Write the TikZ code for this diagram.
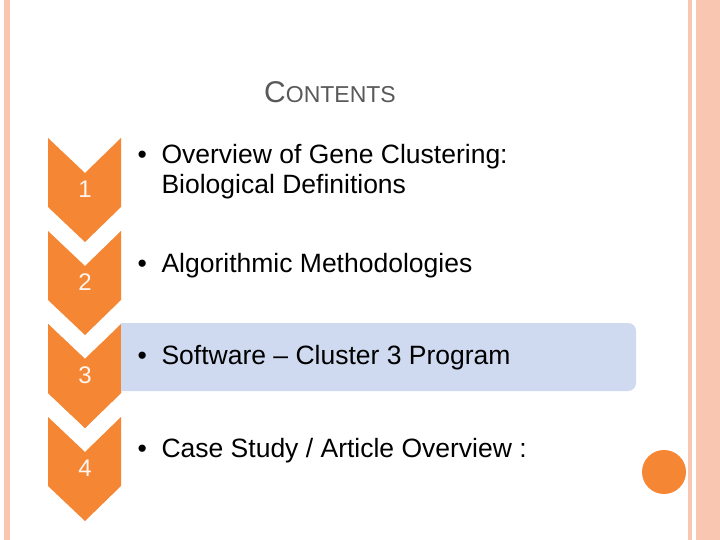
\documentclass[tikz,border=0pt]{standalone}
\usepackage{fontspec}
\setmainfont{Liberation Sans}
\definecolor{org}{HTML}{F58634}
\definecolor{pinkb}{HTML}{F9C6B2}
\definecolor{bluebox}{HTML}{CFDAF0}
\definecolor{titlegrey}{HTML}{595959}
\newcommand{\bul}{\makebox[24pt][l]{•}}
\begin{document}
\begin{tikzpicture}[x=1pt,y=-1pt,
  chev/.style={fill=org,draw=none},
  num/.style={text=white!92!org,font=\fontsize{24}{26}\selectfont},
  item/.style={anchor=west,align=left,font=\fontsize{26.5}{30}\selectfont,text=black}]
\useasboundingbox (0,0) rectangle (720,540);
\fill[white] (0,0) rectangle (720,540);
% borders
\fill[pinkb] (4,0) rectangle (10,540);
\fill[pinkb] (688,0) rectangle (692,540);
\fill[pinkb] (696,0) rectangle (720,540);
\draw[pinkb!80!red!60,line width=0.8pt] (703,0) -- (703,540);
% title
\node[text=titlegrey] (title) at (330,92) {\fontsize{30}{34}\selectfont C\fontsize{23}{26}\selectfont ONTENTS};
% blue box
\fill[bluebox,rounded corners=8pt] (110,323) -- (636,323) -- (636,391) -- (110,391) -- cycle;
\fill[bluebox] (110,323) rectangle (125,391);
% chevrons
\foreach \i/\t in {1/138,2/231,3/324,4/417}{
  \fill[chev] (48,\t) -- (85,\t+35) -- (121,\t) -- (121,\t+69) -- (85,\t+104) -- (48,\t+69) -- cycle;
  \node[num] (n\i) at (85,\t+51) {\i};
}
\fill[white] (100,323) rectangle (121,391);
\foreach \t in {324}{
  \fill[chev] (48,\t) -- (85,\t+35) -- (121,\t) -- (121,\t+69) -- (85,\t+104) -- (48,\t+69) -- cycle;
  \node[num] at (85,\t+51) {3};
}
\fill[bluebox] (121,323) rectangle (125,391);
\node[item] (i1) at (134,172) {\bul Overview of Gene Clustering:\\\hspace{24pt}Biological Definitions};
\node[item] (i2) at (134,266) {\bul Algorithmic Methodologies};
\node[item] (i3) at (134,358) {\bul Software – Cluster 3 Program};
\node[item] (i4) at (134,451) {\bul Case Study / Article Overview :};
\fill[org] (664,472) circle (22);
\end{tikzpicture}
\end{document}
